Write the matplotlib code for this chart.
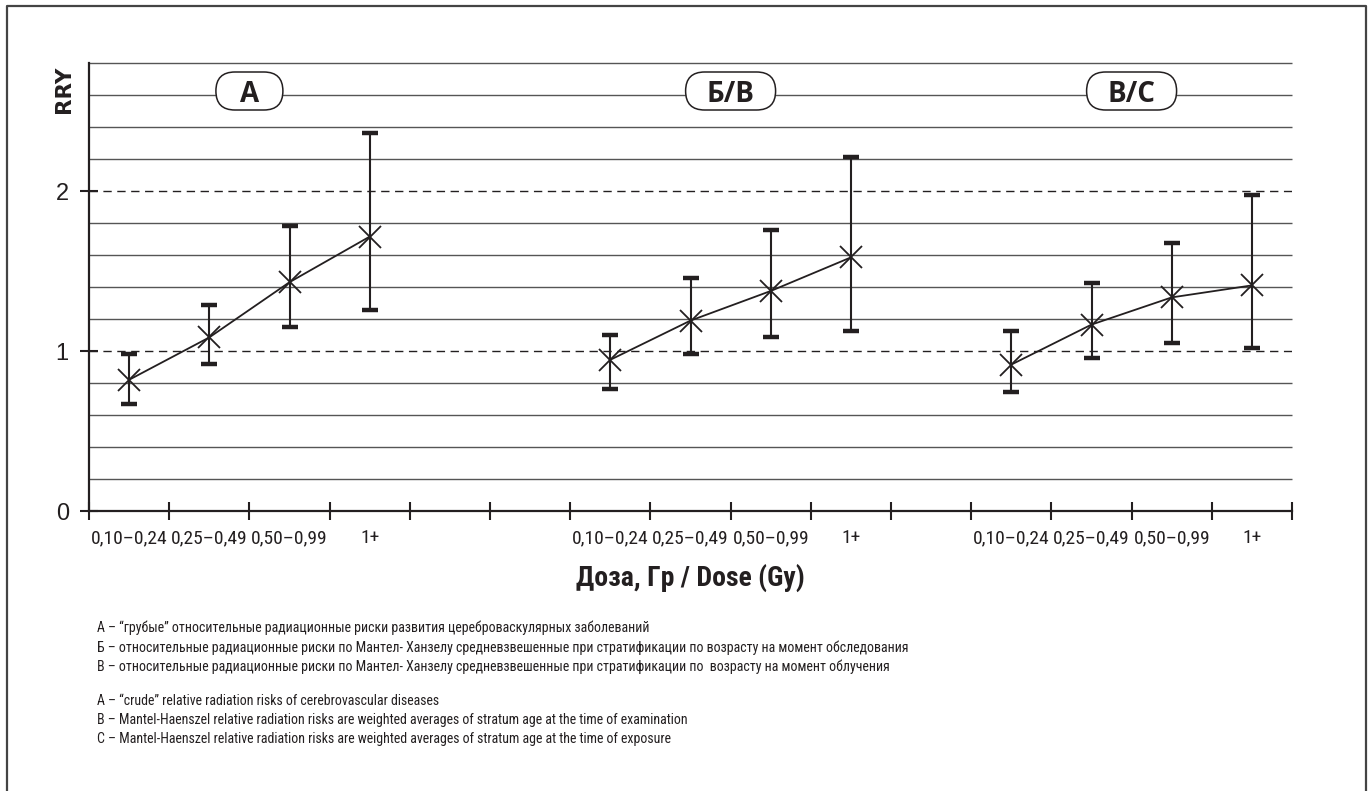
import numpy as np
import matplotlib
matplotlib.use("Agg")
import matplotlib.pyplot as plt
import matplotlib.transforms as mtrans
from matplotlib import font_manager as fm
from matplotlib.lines import Line2D
from matplotlib.patches import FancyBboxPatch

# --- data ---
dose_labels = ["0,10–0,24", "0,25–0,49", "0,50–0,99", "1+"]
group_names = ["А", "Б/B", "В/C"]
group_start = [0, 6, 11]          # first slot of each group on the x axis

rr_a = [0.82, 1.085, 1.43, 1.715]
lo_a = [0.67, 0.92, 1.15, 1.255]
hi_a = [0.98, 1.29, 1.78, 2.36]

rr_b = [0.945, 1.19, 1.375, 1.585]
lo_b = [0.76, 0.98, 1.085, 1.125]
hi_b = [1.10, 1.455, 1.755, 2.21]

rr_c = [0.915, 1.165, 1.335, 1.41]
lo_c = [0.745, 0.955, 1.05, 1.02]
hi_c = [1.125, 1.425, 1.675, 1.975]

notes_ru = [
    "А – “грубые” относительные радиационные риски развития цереброваскулярных заболеваний",
    "Б – относительные радиационные риски по Мантел- Ханзелу средневзвешенные при стратификации по возрасту на момент обследования",
    "В – относительные радиационные риски по Мантел- Ханзелу средневзвешенные при стратификации по  возрасту на момент облучения",
]
notes_en = [
    "A – “crude” relative radiation risks of cerebrovascular diseases",
    "B – Mantel-Haenszel relative radiation risks are weighted averages of stratum age at the time of examination",
    "C – Mantel-Haenszel relative radiation risks are weighted averages of stratum age at the time of exposure",
]

rr = [rr_a, rr_b, rr_c]
lo = [lo_a, lo_b, lo_c]
hi = [hi_a, hi_b, hi_c]

# fonts: a narrow face if there is one, else Roboto (narrower than DejaVu)
have = {f.name for f in fm.fontManager.ttflist}
if "Roboto Condensed" in have:
    NARROW = ["Roboto Condensed", "DejaVu Sans"]
    tick_fs, note_fs, xl_fs = 14, 10, 20
elif "Liberation Sans Narrow" in have:
    NARROW = ["Liberation Sans Narrow", "DejaVu Sans"]
    tick_fs, note_fs, xl_fs = 14, 9.5, 19
else:
    NARROW = ["Roboto", "DejaVu Sans"]
    tick_fs, note_fs, xl_fs = 12.5, 8.5, 18
SANS = ["Liberation Sans", "DejaVu Sans"]
TAG = ["Open Sans", "DejaVu Sans"]
INK = "#231f20"

W, H = 1372, 791
fig = plt.figure(figsize=(W / 100, H / 100), dpi=100)
ax = fig.add_axes([89 / W, 1 - 511 / H, (1292 - 89) / W, (511 - 63) / H])

ax.set_xlim(0, 15)
ax.set_ylim(0, 2.8)

# horizontal rules
levels = np.round(np.arange(0.2, 2.81, 0.2), 1)
solid = [v for v in levels if v not in (1.0, 2.0)]
ax.hlines(solid, 0, 15, colors="#555555", lw=1.0, zorder=1, clip_on=False)
ax.hlines([1.0, 2.0], 0, 15, colors=INK, lw=1.0, linestyles=(0, (6, 4)), zorder=1)

# group tags: rounded boxes sitting on the 2.6 rule
box_w = [0.67, 0.90, 0.90]   # inches
box_h = 0.38
for g in range(3):
    xc = group_start[g] + 2
    tr = fig.dpi_scale_trans + mtrans.ScaledTranslation(xc, 2.625, ax.transData)
    ax.add_patch(FancyBboxPatch((-box_w[g] / 2, -box_h / 2), box_w[g], box_h,
                                boxstyle=f"round,pad=0,rounding_size={box_h / 2}",
                                transform=tr, fc="white", ec=INK, lw=1.1,
                                zorder=6, clip_on=False))
    ax.text(xc, 2.625, group_names[g], ha="center", va="center_baseline",
            fontsize=20, fontweight="bold", family=TAG, color=INK, zorder=7)

# data
for g in range(3):
    x = np.arange(4) + group_start[g] + 0.5
    y = np.array(rr[g])
    err = [y - np.array(lo[g]), np.array(hi[g]) - y]
    ax.errorbar(x, y, yerr=err, fmt="none", ecolor=INK, elinewidth=1.5,
                capsize=5.5, capthick=3.2, zorder=3)
    ax.plot(x, y, "-", color=INK, lw=1.3, zorder=4)
    ax.plot(x, y, "x", color=INK, ms=16, mew=1.3, zorder=5)

# axes styling
for s in ("top", "right"):
    ax.spines[s].set_visible(False)
for s in ("left", "bottom"):
    ax.spines[s].set_linewidth(1.6)
    ax.spines[s].set_color(INK)

ax.set_xticks(np.arange(16))
ax.set_xticklabels([])
centers = [s + i + 0.5 for s in group_start for i in range(4)]
ax.set_xticks(centers, minor=True)
ax.set_xticklabels(dose_labels * 3, minor=True, fontsize=tick_fs, family=NARROW, color=INK)
ax.tick_params(axis="x", which="major", direction="inout", length=13, width=1.5, color=INK)
ax.tick_params(axis="x", which="minor", length=0, pad=13)

ax.set_yticks([0, 1, 2])
ax.set_yticklabels(["0", "1", "2"], fontsize=17, family=SANS, color=INK)
ax.tick_params(axis="y", direction="inout", length=13, width=1.5, color=INK, pad=8)

fig.text(64 / W, 1 - 89 / H, "RRY", rotation=90, ha="center", va="center",
         fontsize=15.5, fontweight="bold", family=["DejaVu Sans"], color=INK)

fig.text(690 / W, 1 - 578 / H, "Доза, Гр / Dose (Gy)", ha="center", va="center",
         fontsize=xl_fs, fontweight="bold", family=NARROW, color=INK)

for i, t in enumerate(notes_ru):
    fig.text(97 / W, 1 - (628 + 19.5 * i) / H, t, ha="left", va="center",
             fontsize=note_fs, family=NARROW, color=INK)
for i, t in enumerate(notes_en):
    fig.text(97 / W, 1 - (701 + 19 * i) / H, t, ha="left", va="center",
             fontsize=note_fs, family=NARROW, color=INK)

# outer frame, open at the bottom
frame_x = [7 / W, 7 / W, 1366 / W, 1366 / W]
frame_y = [0, 1 - 6 / H, 1 - 6 / H, 0]
fig.add_artist(Line2D(frame_x, frame_y, color="#444444", lw=1.6, transform=fig.transFigure))

fig.savefig("out.png", dpi=100)
